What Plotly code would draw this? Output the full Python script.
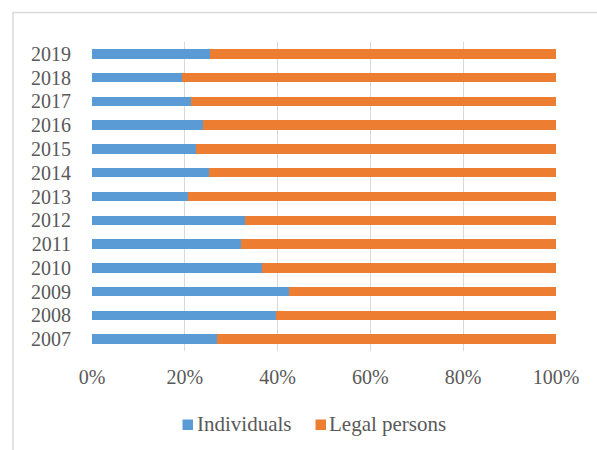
import plotly.graph_objects as go

# Share of owners by type, per year (percent)
years = ["2007", "2008", "2009", "2010", "2011", "2012", "2013",
         "2014", "2015", "2016", "2017", "2018", "2019"]
individuals = [26.9, 39.7, 42.4, 36.6, 32.1, 32.9, 20.6,
               25.3, 22.4, 23.9, 21.4, 19.5, 25.5]
legal_persons = [73.1, 60.3, 57.6, 63.4, 67.9, 67.1, 79.4,
                 74.7, 77.6, 76.1, 78.6, 80.5, 74.5]
series_names = ["Individuals", "Legal persons"]
series_colors = ["#5B9BD5", "#ED7D31"]
tick_vals = [0, 20, 40, 60, 80, 100]
tick_text = ["0%", "20%", "40%", "60%", "80%", "100%"]

font_family = "Liberation Serif, serif"
text_color = "#595959"
grid_color = "#d9d9d9"

# plot area in pixels
L, R, T, B = 92, 556, 42, 351
W, H = R - L, B - T


def px_x(px):
    return (px - L) / W


def px_y(py):
    return (B - py) / H


fig = go.Figure()
for name, vals, col in zip(series_names, [individuals, legal_persons], series_colors):
    fig.add_trace(go.Bar(
        y=years, x=vals, name=name, orientation="h",
        marker=dict(color=col, line=dict(width=0)),
    ))

# legend drawn as swatches + labels below the axis
shapes = [
    dict(type="rect", xref="paper", yref="paper",
         x0=px_x(13), x1=2, y0=-2, y1=px_y(12.5),
         line=dict(color=grid_color, width=1.5), layer="below"),
]
annotations = []
legend_items = [(182.5, 194.5), (315.5, 327)]
for (sx, tx), name, col in zip(legend_items, series_names, series_colors):
    shapes.append(dict(type="rect", xref="paper", yref="paper",
                       x0=px_x(sx), x1=px_x(sx + 10.5),
                       y0=px_y(430), y1=px_y(419.5),
                       fillcolor=col, line=dict(width=0)))
    annotations.append(dict(xref="paper", yref="paper",
                            x=px_x(tx), y=px_y(424), xanchor="left", yanchor="middle",
                            text=name, showarrow=False,
                            font=dict(family=font_family, size=21, color=text_color)))

fig.update_layout(
    width=597, height=450,
    barmode="stack", bargap=0.6,
    margin=dict(l=L, r=597 - R, t=T, b=450 - B),
    paper_bgcolor="white", plot_bgcolor="white",
    font=dict(family=font_family, size=20, color=text_color),
    showlegend=False,
    xaxis=dict(
        range=[0, 100], tickmode="array", tickvals=tick_vals, ticktext=tick_text,
        showgrid=True, gridcolor=grid_color, gridwidth=1,
        zeroline=False, showline=False, ticks="",
        ticklabelstandoff=12, fixedrange=True,
    ),
    yaxis=dict(
        categoryorder="array", categoryarray=years,
        tickmode="array", tickvals=years, ticktext=years,
        showgrid=False, zeroline=False, showline=False, ticks="",
        ticklabelstandoff=20, fixedrange=True,
    ),
    shapes=shapes,
    annotations=annotations,
)

fig.write_html("out.html")
